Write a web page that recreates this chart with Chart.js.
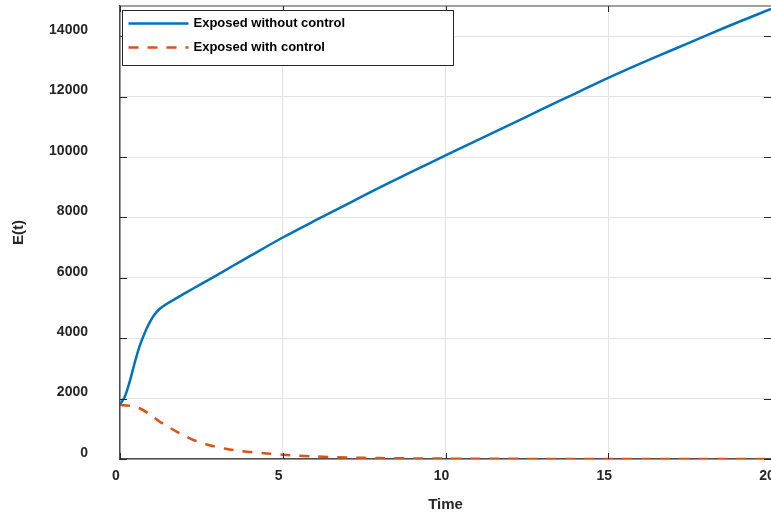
<!DOCTYPE html>
<html>
<head>
<meta charset="utf-8">
<script src="https://cdn.jsdelivr.net/npm/chart.js@4.4.0/dist/chart.umd.min.js"></script>
<style>
    html, body { margin: 0; padding: 0; background: #fff; }
    #wrap { width: 771px; height: 517px; }
</style>
</head>
<body>
<div id="wrap"><canvas id="chart"></canvas></div>
<script>
var timeNoCtrl = [0, 0.15, 0.3, 0.45, 0.6, 0.75, 0.9, 1.05, 1.2, 1.35, 1.5, 1.75, 2.25, 2.75, 3.5, 4, 5, 6, 7, 8, 9, 10, 11, 12, 13, 14, 15, 16, 17, 18, 19, 20];
var exposedNoCtrl = [1800, 2070, 2570, 3180, 3730, 4150, 4500, 4770, 4950, 5075, 5180, 5335, 5645, 5950, 6415, 6725, 7335, 7900, 8450, 9000, 9530, 10050, 10570, 11080, 11600, 12110, 12620, 13100, 13560, 14020, 14470, 14900];

var timeCtrl = [0, 0.3, 0.6, 0.9, 1.2, 1.5, 1.75, 2, 2.25, 2.75, 3.25, 3.75, 4.5, 5, 6, 7, 8, 10, 12, 15, 20];
var exposedCtrl = [1790, 1760, 1680, 1490, 1250, 1055, 900, 760, 630, 455, 340, 260, 185, 140, 85, 50, 30, 12, 5, 2, 0];

var xTicks = [0, 5, 10, 15, 20];
var yTicks = [0, 2000, 4000, 6000, 8000, 10000, 12000, 14000];

var seriesNames = ['Exposed without control', 'Exposed with control'];
var seriesColors = ['#0072BD', '#D95319'];
var seriesDash = [[], [10, 9]];

function toPoints(xs, ys) {
    return xs.map(function (x, i) { return { x: x, y: ys[i] }; });
}

var FONT = "'Liberation Sans', Arial, Helvetica, sans-serif";
var TEXT = '#262626';

// matlab style frame: top line and inward tick marks
var framePlugin = {
    id: 'frame',
    afterDatasetsDraw: function (chart) {
        var ctx = chart.ctx, a = chart.chartArea;
        var xs = chart.scales.x, ys = chart.scales.y;
        ctx.save();
        ctx.strokeStyle = '#808080';
        ctx.lineWidth = 1.5;
        ctx.beginPath();
        ctx.moveTo(a.left, a.top);
        ctx.lineTo(a.right, a.top);
        ctx.stroke();

        ctx.strokeStyle = TEXT;
        ctx.lineWidth = 1;
        ctx.beginPath();
        xTicks.forEach(function (v) {
            var px = Math.round(xs.getPixelForValue(v)) + 0.5;
            ctx.moveTo(px, a.bottom); ctx.lineTo(px, a.bottom - 6);
            ctx.moveTo(px, a.top); ctx.lineTo(px, a.top + 6);
        });
        yTicks.forEach(function (v) {
            var py = Math.round(ys.getPixelForValue(v)) + 0.5;
            ctx.moveTo(a.left, py); ctx.lineTo(a.left + 7, py);
            ctx.moveTo(a.right, py); ctx.lineTo(a.right - 7, py);
        });
        ctx.stroke();
        ctx.restore();
    }
};

// boxed legend inside the axes, top left
var legendPlugin = {
    id: 'boxLegend',
    afterDraw: function (chart) {
        var ctx = chart.ctx, a = chart.chartArea;
        var left = Math.round(a.left) + 2.5, top = Math.round(a.top) + 4.5;
        var w = 331, h = 55;
        ctx.save();
        ctx.fillStyle = '#fff';
        ctx.fillRect(left, top, w, h);
        ctx.strokeStyle = TEXT;
        ctx.lineWidth = 1;
        ctx.strokeRect(left, top, w, h);

        ctx.font = 'bold 13px ' + FONT;
        ctx.textBaseline = 'middle';
        ctx.textAlign = 'left';
        chart.data.datasets.forEach(function (ds, i) {
            var y = top + 13 + i * 24;
            ctx.strokeStyle = ds.borderColor;
            ctx.lineWidth = ds.borderWidth;
            ctx.setLineDash(ds.borderDash || []);
            ctx.beginPath();
            ctx.moveTo(left + 6, y);
            ctx.lineTo(left + 66, y);
            ctx.stroke();
            ctx.setLineDash([]);
            ctx.fillStyle = '#000';
            ctx.fillText(ds.label, left + 71, y);
        });
        ctx.restore();
    }
};

var ctx = document.getElementById('chart').getContext('2d');

new Chart(ctx, {
    type: 'line',
    data: {
        datasets: [
            {
                label: seriesNames[0],
                data: toPoints(timeNoCtrl, exposedNoCtrl),
                borderColor: seriesColors[0],
                borderWidth: 2.5,
                borderDash: seriesDash[0],
                pointRadius: 0,
                tension: 0.3,
                fill: false
            },
            {
                label: seriesNames[1],
                data: toPoints(timeCtrl, exposedCtrl),
                borderColor: seriesColors[1],
                borderWidth: 2.5,
                borderDash: seriesDash[1],
                pointRadius: 0,
                tension: 0.3,
                fill: false
            }
        ]
    },
    options: {
        responsive: true,
        maintainAspectRatio: false,
        animation: false,
        layout: { padding: { top: 6, left: 0, right: 0, bottom: 0 } },
        plugins: {
            legend: { display: false },
            tooltip: { enabled: false }
        },
        scales: {
            x: {
                type: 'linear',
                min: 0,
                max: 20,
                afterBuildTicks: function (s) {
                    s.ticks = xTicks.map(function (v) { return { value: v }; });
                },
                afterFit: function (s) {
                    s.height = 58;
                    s.paddingLeft = 0;
                    s.paddingRight = 0;
                },
                grid: { color: '#e3e3e3', drawTicks: false },
                border: { color: '#4d4d4d', width: 1.5 },
                ticks: {
                    color: TEXT,
                    font: { family: FONT, size: 14, weight: 'bold' },
                    padding: 9,
                    labelOffset: -4,
                    maxRotation: 0,
                    autoSkip: false,
                    callback: function (v) { return String(v); }
                },
                title: {
                    display: true,
                    text: 'Time',
                    color: TEXT,
                    font: { family: FONT, size: 15, weight: 'bold' },
                    padding: { top: 11, bottom: 3 }
                }
            },
            y: {
                type: 'linear',
                min: 0,
                max: 15000,
                afterBuildTicks: function (s) {
                    s.ticks = yTicks.map(function (v) { return { value: v }; });
                },
                afterFit: function (s) {
                    s.width = 120;
                    s.paddingTop = 0;
                    s.paddingBottom = 0;
                },
                grid: { color: '#e3e3e3', drawTicks: false },
                border: { color: '#4d4d4d', width: 1.5 },
                ticks: {
                    color: TEXT,
                    font: { family: FONT, size: 14, weight: 'bold' },
                    padding: 32,
                    labelOffset: -6,
                    autoSkip: false,
                    callback: function (v) { return String(v); }
                },
                title: {
                    display: true,
                    text: 'E(t)',
                    color: TEXT,
                    font: { family: FONT, size: 15, weight: 'bold' },
                    padding: { top: 10, bottom: 10 }
                }
            }
        }
    },
    plugins: [framePlugin, legendPlugin]
});
</script>
</body>
</html>
